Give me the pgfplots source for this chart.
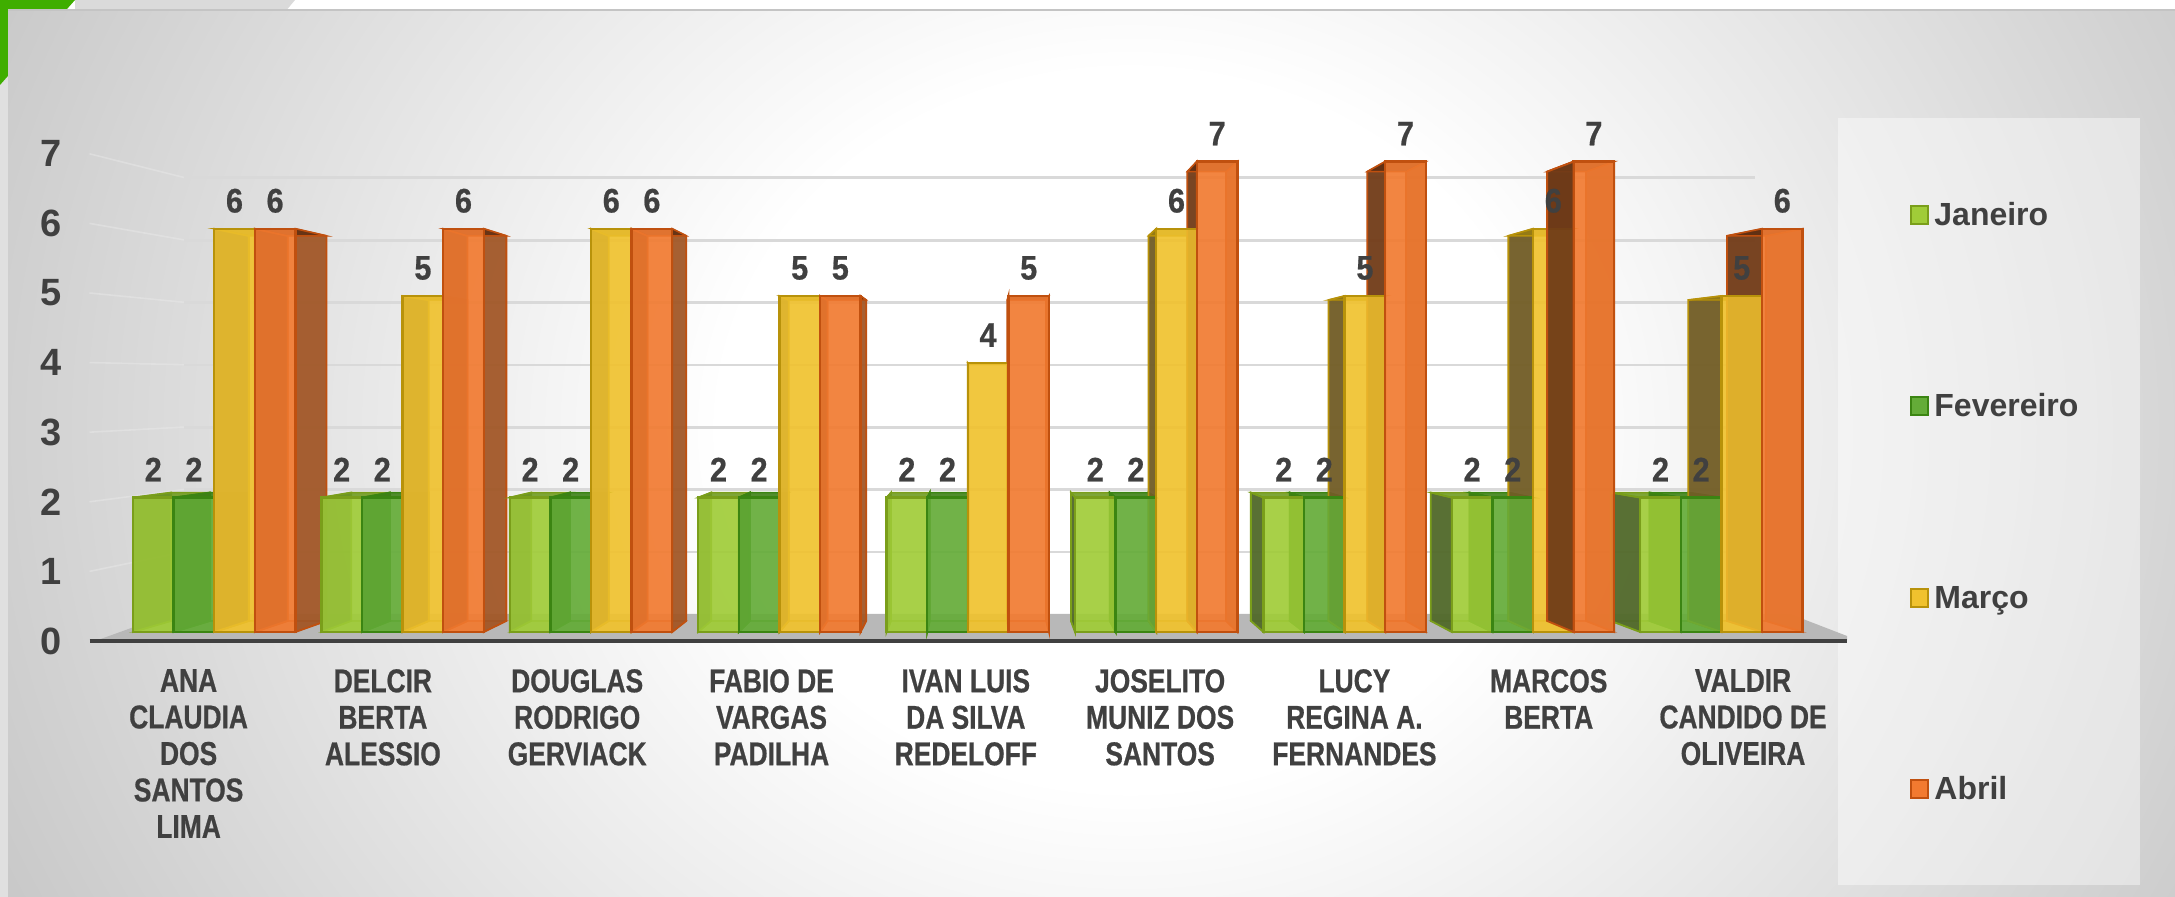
\documentclass[border=0pt]{standalone}
\usepackage{pgfplots}
\usepackage{pgfplotstable}
\usepackage{fontspec}
\pgfplotsset{compat=1.18}
\setmainfont{Liberation Sans}
\newfontfamily\narrowfont[FakeStretch=0.8,BoldFeatures={FakeStretch=0.8,FakeBold=0.6}]{Liberation Sans}
\newfontfamily\valuefont[FakeStretch=0.9,BoldFeatures={FakeStretch=0.9,FakeBold=0.6}]{Liberation Sans}
\definecolor{bggray}{HTML}{C6C6C6}
\pgfdeclareradialshading{bgs}{\pgfpointorigin}{color(0bp)=(white);color(8bp)=(white);color(25bp)=(bggray);color(50bp)=(bggray)}
\definecolor{txt}{HTML}{404040}
\definecolor{stripL}{HTML}{E0E0E0}
\definecolor{stripT}{HTML}{DADADA}
\definecolor{edgeT}{HTML}{C4C4C4}
\definecolor{floorc}{HTML}{B8B8B8}
\definecolor{slant}{HTML}{EAEAEA}
\definecolor{gridc}{HTML}{D9D9D9}
\definecolor{corner}{HTML}{3FAE00}
% series colours: F front, E edge, L left face, R right face, T top face
\definecolor{s0F}{HTML}{A0CC38}\definecolor{s0E}{HTML}{7A9E1A}\definecolor{s0L}{HTML}{4F662A}\definecolor{s0R}{HTML}{7FA030}\definecolor{s0T}{HTML}{6F9A22}
\definecolor{s1F}{HTML}{64AC38}\definecolor{s1E}{HTML}{3B8512}\definecolor{s1L}{HTML}{3C7A14}\definecolor{s1R}{HTML}{4A8F1C}\definecolor{s1T}{HTML}{3E8018}
\definecolor{s2F}{HTML}{F0C22E}\definecolor{s2E}{HTML}{B8920A}\definecolor{s2L}{HTML}{6E5A26}\definecolor{s2R}{HTML}{C79A18}\definecolor{s2T}{HTML}{9A7E10}
\definecolor{s3F}{HTML}{F27A30}\definecolor{s3E}{HTML}{C0500F}\definecolor{s3L}{HTML}{6E3A18}\definecolor{s3R}{HTML}{9E5526}\definecolor{s3T}{HTML}{5E2C10}
\pgfplotstableread{
g jan fev mar abr
0 2 2 6 6
1 2 2 5 6
2 2 2 6 6
3 2 2 5 5
4 2 2 4 5
5 2 2 6 7
6 2 2 5 7
7 2 2 6 7
8 2 2 5 6
}\datatable
\def\tp{0.045}\def\Uv{4.091}\def\Vv{3.66}\def\wb{0.2155}
\newcommand\corners[3]{% group, series, value
  \pgfmathsetmacro\xl{#1+(#2-2)*\wb}
  \pgfmathsetmacro\xr{\xl+\wb}
  \pgfmathsetmacro\bxl{\xl+\tp*(\Uv-\xl)}
  \pgfmathsetmacro\bxr{\xr+\tp*(\Uv-\xr)}
  \pgfmathsetmacro\bv{#3+\tp*(\Vv-#3)}
  \pgfmathsetmacro\bz{\tp*\Vv}
  \def\vv{#3}}
\newcommand\poly[2]{%
  \edef\tmp{\noexpand\addplot[#1,forget plot] coordinates {#2} --cycle;}\tmp}
\newcommand\threeD[3]{%
  \corners{#1}{#2}{#3}%
  \poly{fill=s#2F,draw=s#2E,fill opacity=0.4,draw opacity=0.6,line width=0.6pt}{(\bxl,\bz)(\bxr,\bz)(\bxr,\bv)(\bxl,\bv)}%
  \poly{fill=s#2F,draw=s#2E,fill opacity=0.5,draw opacity=0.6,line width=0.6pt}{(\xl,0)(\xr,0)(\bxr,\bz)(\bxl,\bz)}%
  \poly{fill=s#2L,draw=s#2E,fill opacity=0.92,line width=0.9pt}{(\xl,0)(\xl,\vv)(\bxl,\bv)(\bxl,\bz)}%
  \poly{fill=s#2R,draw=s#2E,fill opacity=0.9,line width=0.9pt}{(\xr,0)(\xr,\vv)(\bxr,\bv)(\bxr,\bz)}%
  \poly{fill=s#2T,draw=s#2E,fill opacity=0.85,line width=0.7pt}{(\xl,\vv)(\xr,\vv)(\bxr,\bv)(\bxl,\bv)}%
}
\begin{document}
\begin{tikzpicture}
\useasboundingbox (0,0) rectangle (1087.5pt,448.5pt);
\begin{scope}[x=0.5pt,y=-0.5pt,shift={(0,448.5pt)}]
  \fill[white] (0,0) rectangle (2175,897);
  \fill[stripL] (0,0) rectangle (8,897);
  \fill[stripT] (75,0) -- (295,0) -- (285,12) -- (75,12) -- cycle;
  \fill[corner] (0,0) -- (75,0) -- (0,85) -- cycle;
  \begin{scope}
    \clip (8,10) rectangle (2175,897);
    \fill[bggray] (8,10) rectangle (2175,897);
    \shade[shading=bgs] (1130,430) ellipse (1280 and 1120);
  \end{scope}
  \draw[edgeT,line width=1pt] (8,10.5) -- (2175,10.5);
  \fill[white,fill opacity=0.42] (1838,118) rectangle (2140,885);
  % floor
  \fill[floorc] (98,640) -- (170,614) -- (1790,614) -- (1847,636) -- (1847,640) -- cycle;
  % slanted wall lines
  \foreach \k in {1,...,7} {
    \draw[slant,line width=0.8pt,draw opacity=0.45] (89.5,641-69.6*\k) -- (184,614.3-62.4*\k);
  }
\end{scope}

% back wall with its gridlines
\begin{axis}[
  at={(92pt,141.35pt)},anchor=south west,scale only axis,
  width=785.5pt,height=218.2pt,
  xmin=0,xmax=1,ymin=0,ymax=7,
  axis line style={draw=none},
  ytick={1,...,7},xtick=\empty,yticklabels={},
  major tick length=0pt,
  ymajorgrids,grid style={gridc,line width=1.4pt},
]
\addplot[draw=none,forget plot] coordinates {(0,0)(1,1)};
\end{axis}

% bars, in a whole-picture axis
\begin{axis}[
  at={(0pt,0pt)},anchor=south west,scale only axis,
  width=1087.5pt,height=448.5pt,
  xmin=-1.13694,xmax=10.4076,ymin=-3.9435,ymax=9.4048,
  hide axis,clip=false,
]
\pgfplotsforeachungrouped \g in {0,...,8}{%
  \pgfplotsforeachungrouped \s in {0,1,2,3}{%
    \pgfmathtruncatemacro\cidx{\s+1}%
    \pgfplotstablegetelem{\g}{[index]\cidx}\of\datatable
    \edef\val{\pgfplotsretval}%
    \threeD{\g}{\s}{\val}%
  }%
}
\addplot[ybar,bar width=0.2155,bar shift=-0.32325,fill=s0F,draw=s0E,fill opacity=0.86,line width=1.2pt,forget plot] table[x=g,y=jan]{\datatable};
\addplot[ybar,bar width=0.2155,bar shift=-0.10775,fill=s1F,draw=s1E,fill opacity=0.86,line width=1.2pt,forget plot] table[x=g,y=fev]{\datatable};
\addplot[ybar,bar width=0.2155,bar shift=0.10775,fill=s2F,draw=s2E,fill opacity=0.86,line width=1.2pt,forget plot] table[x=g,y=mar]{\datatable};
\addplot[ybar,bar width=0.2155,bar shift=0.32325,fill=s3F,draw=s3E,fill opacity=0.86,line width=1.2pt,forget plot] table[x=g,y=abr]{\datatable};
% the dark left face of Abril that stands over the Marco bar of MARCOS BERTA
\corners{7}{3}{7}
\poly{fill=s3L,draw=s3E,fill opacity=0.92,line width=0.9pt}{(\xl,0)(\xl,\vv)(\bxl,\bv)(\bxl,\bz)}
% value labels on top of everything
\pgfplotsset{lbl/.style={draw=none,forget plot,mark=none,
  nodes near coords,
  every node near coord/.append style={anchor=center,yshift=14pt,inner sep=0pt,text=txt,
    font=\fontsize{17}{18}\selectfont\valuefont\bfseries},
  /pgf/number format/assume math mode=true}}
\addplot[lbl] table[x expr=\thisrow{g}-0.32325,y=jan]{\datatable};
\addplot[lbl] table[x expr=\thisrow{g}-0.10775,y=fev]{\datatable};
\addplot[lbl] table[x expr=\thisrow{g}+0.10775,y=mar]{\datatable};
\addplot[lbl] table[x expr=\thisrow{g}+0.32325,y=abr]{\datatable};
\end{axis}

% front frame: value axis, category axis
\begin{axis}[
  at={(44.75pt,128pt)},anchor=south west,scale only axis,
  width=878.75pt,height=243.7pt,
  xmin=-0.51,xmax=8.535,ymin=0,ymax=7,
  axis x line=bottom,axis y line=left,
  y axis line style={draw=none},
  x axis line style={draw=txt,line width=2pt,-},
  major tick length=0pt,
  ytick={0,...,7},xtick={0,...,8},
  xticklabels={{ANA\\CLAUDIA\\DOS\\SANTOS\\LIMA},{DELCIR\\BERTA\\ALESSIO},{DOUGLAS\\RODRIGO\\GERVIACK},{FABIO DE\\VARGAS\\PADILHA},{IVAN LUIS\\DA SILVA\\REDELOFF},{JOSELITO\\MUNIZ DOS\\SANTOS},{LUCY\\REGINA A.\\FERNANDES},{MARCOS\\BERTA},{VALDIR\\CANDIDO DE\\OLIVEIRA}},
  /pgf/number format/assume math mode=true,
  y tick label style={anchor=east,inner sep=0pt,xshift=-13.75pt,text=txt,font=\fontsize{19}{19}\selectfont\bfseries},
  x tick label style={anchor=north,align=center,inner sep=0pt,yshift=-13.9pt,text=txt,font=\fontsize{16.5}{18.25}\selectfont\narrowfont\bfseries},
]
\addplot[draw=none,forget plot] coordinates {(0,0)(8,7)};
\end{axis}

% legend
\begin{scope}[x=0.5pt,y=-0.5pt,shift={(0,448.5pt)}]
  \foreach \yy/\nm/\cc/\ee in {215/Janeiro/s0F/s0E,406/Fevereiro/s1F/s1E,598/Março/s2F/s2E,789/Abril/s3F/s3E}{
    \filldraw[fill=\cc,draw=\ee,line width=1pt] (1911,\yy-9) rectangle (1928,\yy+9);
    \node[anchor=base west,inner sep=0pt,text=txt,font=\fontsize{16}{18}\selectfont\bfseries] at (1934,\yy+11) {\nm};
  }
\end{scope}
\end{tikzpicture}
\end{document}
